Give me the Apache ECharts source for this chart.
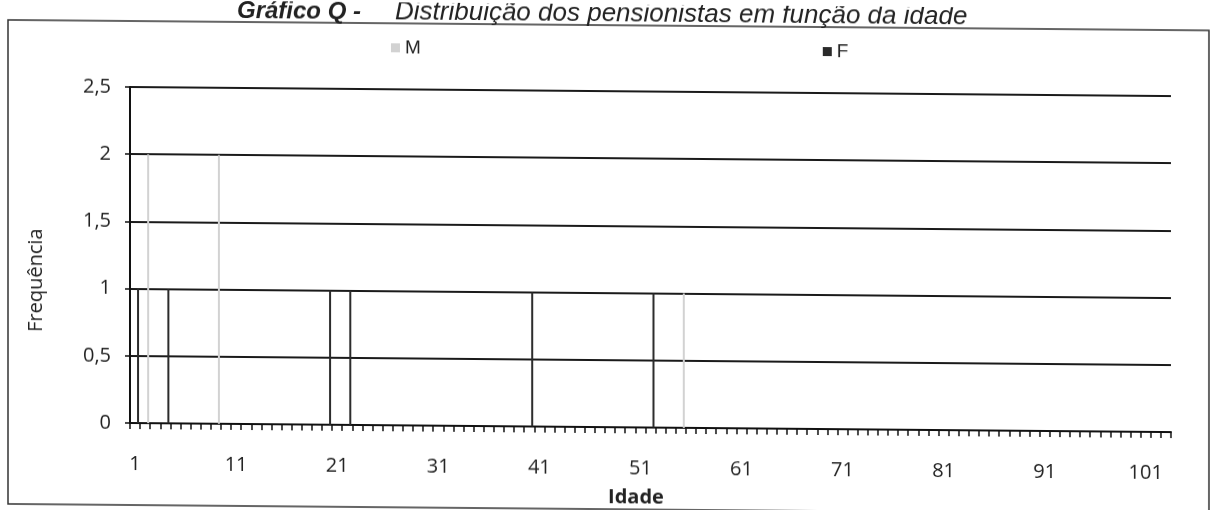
<!DOCTYPE html>
<html>
<head>
<meta charset="utf-8">
<script src="https://cdn.jsdelivr.net/npm/echarts@6/dist/echarts.min.js"></script>
<style>
  html, body { margin: 0; padding: 0; background: #fff; }
  /* the scanned page is slightly sheared: right side sits a bit lower */
  #main { width: 1211px; height: 510px; transform: skewY(0.5deg); transform-origin: 130px 423px; }
</style>
</head>
<body>
<div id="main"></div>
<script>
// idades 1..103 no eixo das categorias
var idades = [];
for (var i = 1; i <= 103; i++) idades.push(String(i));

// frequências (só as idades com barra)
var idadesM = ['2', '9', '55'];
var freqM = [2, 2, 1];
var idadesF = ['1', '4', '20', '22', '40', '52'];
var freqF = [1, 1, 1, 1, 1, 1];

var yTicks = [0, 0.5, 1, 1.5, 2, 2.5];

function pares(cats, vals) {
  var out = [];
  for (var k = 0; k < cats.length; k++) out.push([cats[k], vals[k]]);
  return out;
}

var fonte = '"Open Sans", sans-serif';
var chart = echarts.init(document.getElementById('main'), null, { renderer: 'canvas' });

var option = {
  backgroundColor: '#fff',
  animation: false,
  title: [
    {
      text: 'Gráfico Q -',
      left: 232, top: -7,
      textStyle: { fontFamily: '"Liberation Sans", Arial', fontStyle: 'italic', fontWeight: 'bold', fontSize: 24, color: '#222' }
    },
    {
      text: 'Distribuição dos pensionistas em função da idade',
      left: 390, top: -8,
      textStyle: { fontFamily: '"Liberation Sans", Arial', fontStyle: 'italic', fontWeight: 'normal', fontSize: 26, color: '#222' }
    }
  ],
  legend: {
    data: ['M', 'F'],
    left: 386, top: 31,
    itemWidth: 9, itemHeight: 9,
    itemGap: 402,
    icon: 'rect',
    textStyle: { fontFamily: '"Liberation Sans", Arial', fontSize: 19, color: '#222' }
  },
  grid: { left: 130, right: 40, top: 87, bottom: 87, containLabel: false },
  xAxis: {
    type: 'category',
    data: idades,
    boundaryGap: true,
    axisLine: { show: true, lineStyle: { color: '#111', width: 2 } },
    axisTick: { show: true, interval: 0, length: 6, lineStyle: { color: '#111', width: 1.5 } },
    axisLabel: { interval: 9, margin: 31, fontFamily: fonte, fontSize: 20, color: '#222' },
    splitLine: { show: false }
  },
  yAxis: {
    type: 'value',
    min: yTicks[0],
    max: yTicks[yTicks.length - 1],
    interval: 0.5,
    axisLine: { show: true, lineStyle: { color: '#111', width: 2 } },
    axisTick: { show: true, length: 5, lineStyle: { color: '#111', width: 1.5 } },
    axisLabel: {
      margin: 19, fontFamily: fonte, fontSize: 20, color: '#222',
      formatter: function (v) { return String(v).replace('.', ','); }
    },
    splitLine: { show: true, lineStyle: { color: '#1a1a1a', width: 2 } }
  },
  series: [
    {
      // série vazia só para deslocar as barras para a direita dentro da categoria
      name: '_', type: 'bar', data: [], barWidth: 2, silent: true
    },
    {
      name: 'M', type: 'bar', stack: 'sexo', barWidth: 2, barGap: '200%',
      data: pares(idadesM, freqM),
      itemStyle: { color: '#d2d2d2' }
    },
    {
      name: 'F', type: 'bar', stack: 'sexo', barWidth: 2, barGap: '200%',
      data: pares(idadesF, freqF),
      itemStyle: { color: '#2a2a2a' }
    }
  ],
  graphic: [
    {
      type: 'rect', z: -1, silent: true,
      shape: { x: 8, y: 21, width: 1201, height: 484 },
      style: { fill: 'none', stroke: '#333', lineWidth: 1.5 }
    },
    {
      type: 'text', x: 36, y: 281, rotation: Math.PI / 2,
      style: { text: 'Frequência', font: '20px "Open Sans"', fill: '#222', textAlign: 'center', textVerticalAlign: 'middle' }
    },
    {
      type: 'text', x: 636, y: 493,
      style: { text: 'Idade', font: 'bold 20px "Open Sans"', fill: '#222', textAlign: 'center', textVerticalAlign: 'middle' }
    }
  ]
};

chart.setOption(option);
</script>
</body>
</html>
